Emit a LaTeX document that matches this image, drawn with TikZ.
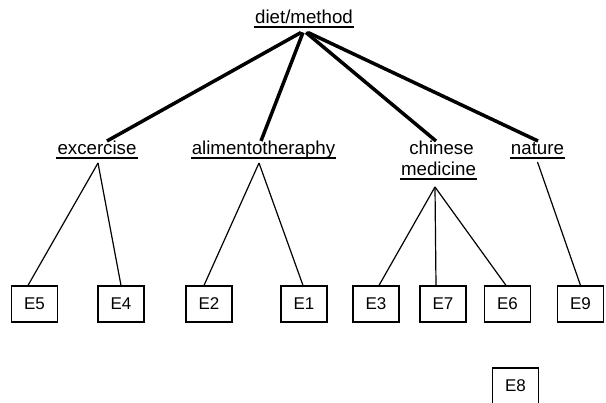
\documentclass[tikz,border=0pt]{standalone}
\usepackage{fontspec}
\setmainfont{Liberation Sans}
\begin{document}
\begin{tikzpicture}[x=1pt,y=-1pt,
  lbl/.style={anchor=base, inner sep=0pt, font=\fontsize{18.7}{22}\selectfont},
  uline/.style={line width=2pt},
  trunk/.style={line width=3.5pt},
  twig/.style={line width=1.2pt},
  ebox/.style={draw, line width=1.2pt, minimum width=46pt, minimum height=36pt,
    inner sep=0pt, font=\fontsize{17}{20}\selectfont}]
\useasboundingbox (0,0) rectangle (606,403);
\clip (0,0) rectangle (606,403);

% category labels
\node[lbl] (diet) at (304,24)    {diet/method};
\node[lbl] (exc)  at (97,155)    {excercise};
\node[lbl] (alim) at (263.5,155) {alimentotheraphy};
\node[lbl] (chin) at (441.5,155) {chinese};
\node[lbl] (med)  at (438.5,176) {medicine};
\node[lbl] (nat)  at (537.5,155) {nature};

% underlines
\foreach \n in {diet,exc,alim,med,nat}
  \draw[uline] ([shift={(-1,3.5)}]\n.base west) -- ([shift={(1,3.5)}]\n.base east);

% leaf boxes
\node[ebox] (e5) at (34.5,304)  {E5};
\node[ebox] (e4) at (121,304)   {E4};
\node[ebox] (e2) at (209,304)   {E2};
\node[ebox] (e1) at (304,304)   {E1};
\node[ebox] (e3) at (376,304)   {E3};
\node[ebox] (e7) at (443,304)   {E7};
\node[ebox] (e6) at (507.5,304) {E6};
\node[ebox] (e9) at (580.5,304) {E9};
\node[ebox] (e8) at (515.5,386) {E8};

% top level branches
\draw[trunk] ([shift={(-3,8.5)}]diet.base) -- ([shift={(10,-14)}]exc.base);
\draw[trunk] ([shift={(-1,8.5)}]diet.base) -- ([shift={(-2.5,-14)}]alim.base);
\draw[trunk] ([shift={(2,8.5)}]diet.base)  -- ([shift={(-5.5,-14)}]chin.base);
\draw[trunk] ([shift={(4,8.5)}]diet.base)  -- ([shift={(0.5,-14)}]nat.base);

% second level branches
\draw[twig] ([shift={(1,8)}]exc.base)    -- ([xshift=-6.5]e5.north);
\draw[twig] ([shift={(1,8)}]exc.base)    -- ([xshift=0]e4.north);
\draw[twig] ([shift={(-4.5,8)}]alim.base) -- ([xshift=-5]e2.north);
\draw[twig] ([shift={(-4.5,8)}]alim.base) -- ([xshift=-1]e1.north);
\draw[twig] ([shift={(-3.5,11)}]med.base) -- ([xshift=3]e3.north);
\draw[twig] ([shift={(-3.5,11)}]med.base) -- ([xshift=-7]e7.north);
\draw[twig] ([shift={(-3.5,11)}]med.base) -- ([xshift=-1.5]e6.north);
\draw[twig] ([shift={(0,7)}]nat.base)     -- ([xshift=0]e9.north);
\end{tikzpicture}
\end{document}
